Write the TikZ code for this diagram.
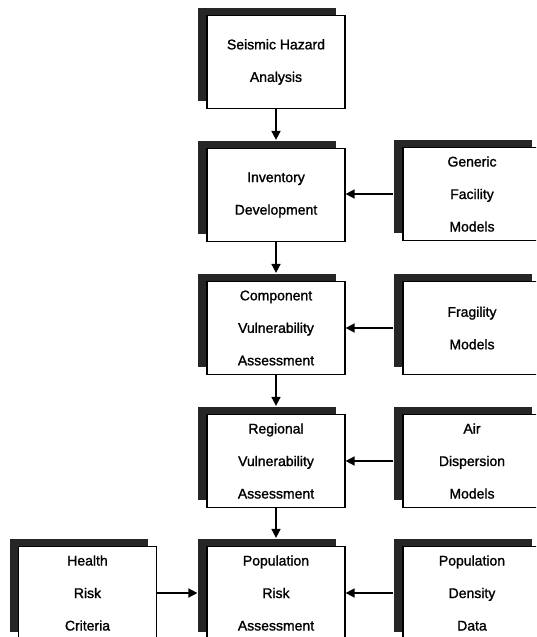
\documentclass[tikz,border=0pt]{standalone}
\usepackage{fontspec}
\newfontfamily\boxfont{Liberation Sans}[FakeBold=1.3]
\usetikzlibrary{shadows,arrows.meta}
\begin{document}
\begin{tikzpicture}[x=1pt,y=-1pt,
  fbox/.style={draw=black, line width=1.2pt, fill=white,
    minimum width=138pt, minimum height=93pt, inner sep=0pt,
    align=center, font=\boxfont\fontsize{14pt}{32.5pt}\selectfont,
    general shadow={shadow xshift=-9pt, shadow yshift=8pt, fill=black!85}},
  arr/.style={line width=1.6pt, -{Triangle[length=9pt,width=9pt]}}]
\clip (0,0) rectangle (536,637);
\fill[white] (0,0) rectangle (536,637);
% centre column
\node[fbox] (sha) at (276,62) {Seismic Hazard\\Analysis};
\node[fbox] (inv) at (276,195) {Inventory\\Development};
\node[fbox] (cva) at (276,328) {Component\\Vulnerability\\Assessment};
\node[fbox] (rva) at (276,461) {Regional\\Vulnerability\\Assessment};
\node[fbox] (pra) at (276,593) {Population\\Risk\\Assessment};
% right column
\node[fbox] (gfm) at (472,194) {Generic\\Facility\\Models};
\node[fbox] (frm) at (472,328) {Fragility\\Models};
\node[fbox] (adm) at (472,461) {Air\\Dispersion\\Models};
\node[fbox] (pdd) at (472,593) {Population\\Density\\Data};
% left column
\node[fbox] (hrc) at (87.5,593) {Health\\Risk\\Criteria};
% connectors
\draw[arr] (sha.south) -- ([yshift=8pt]inv.north);
\draw[arr] (inv.south) -- ([yshift=8pt]cva.north);
\draw[arr] (cva.south) -- ([yshift=8pt]rva.north);
\draw[arr] (rva.south) -- ([yshift=8pt]pra.north);
\draw[arr] ([xshift=-9pt]gfm.west) -- (gfm.west -| inv.east);
\draw[arr] ([xshift=-9pt]frm.west) -- (frm.west -| cva.east);
\draw[arr] ([xshift=-9pt]adm.west) -- (adm.west -| rva.east);
\draw[arr] ([xshift=-9pt]pdd.west) -- (pdd.west -| pra.east);
\draw[arr] (hrc.east) -- ([xshift=-9pt]pra.west);
\end{tikzpicture}
\end{document}
